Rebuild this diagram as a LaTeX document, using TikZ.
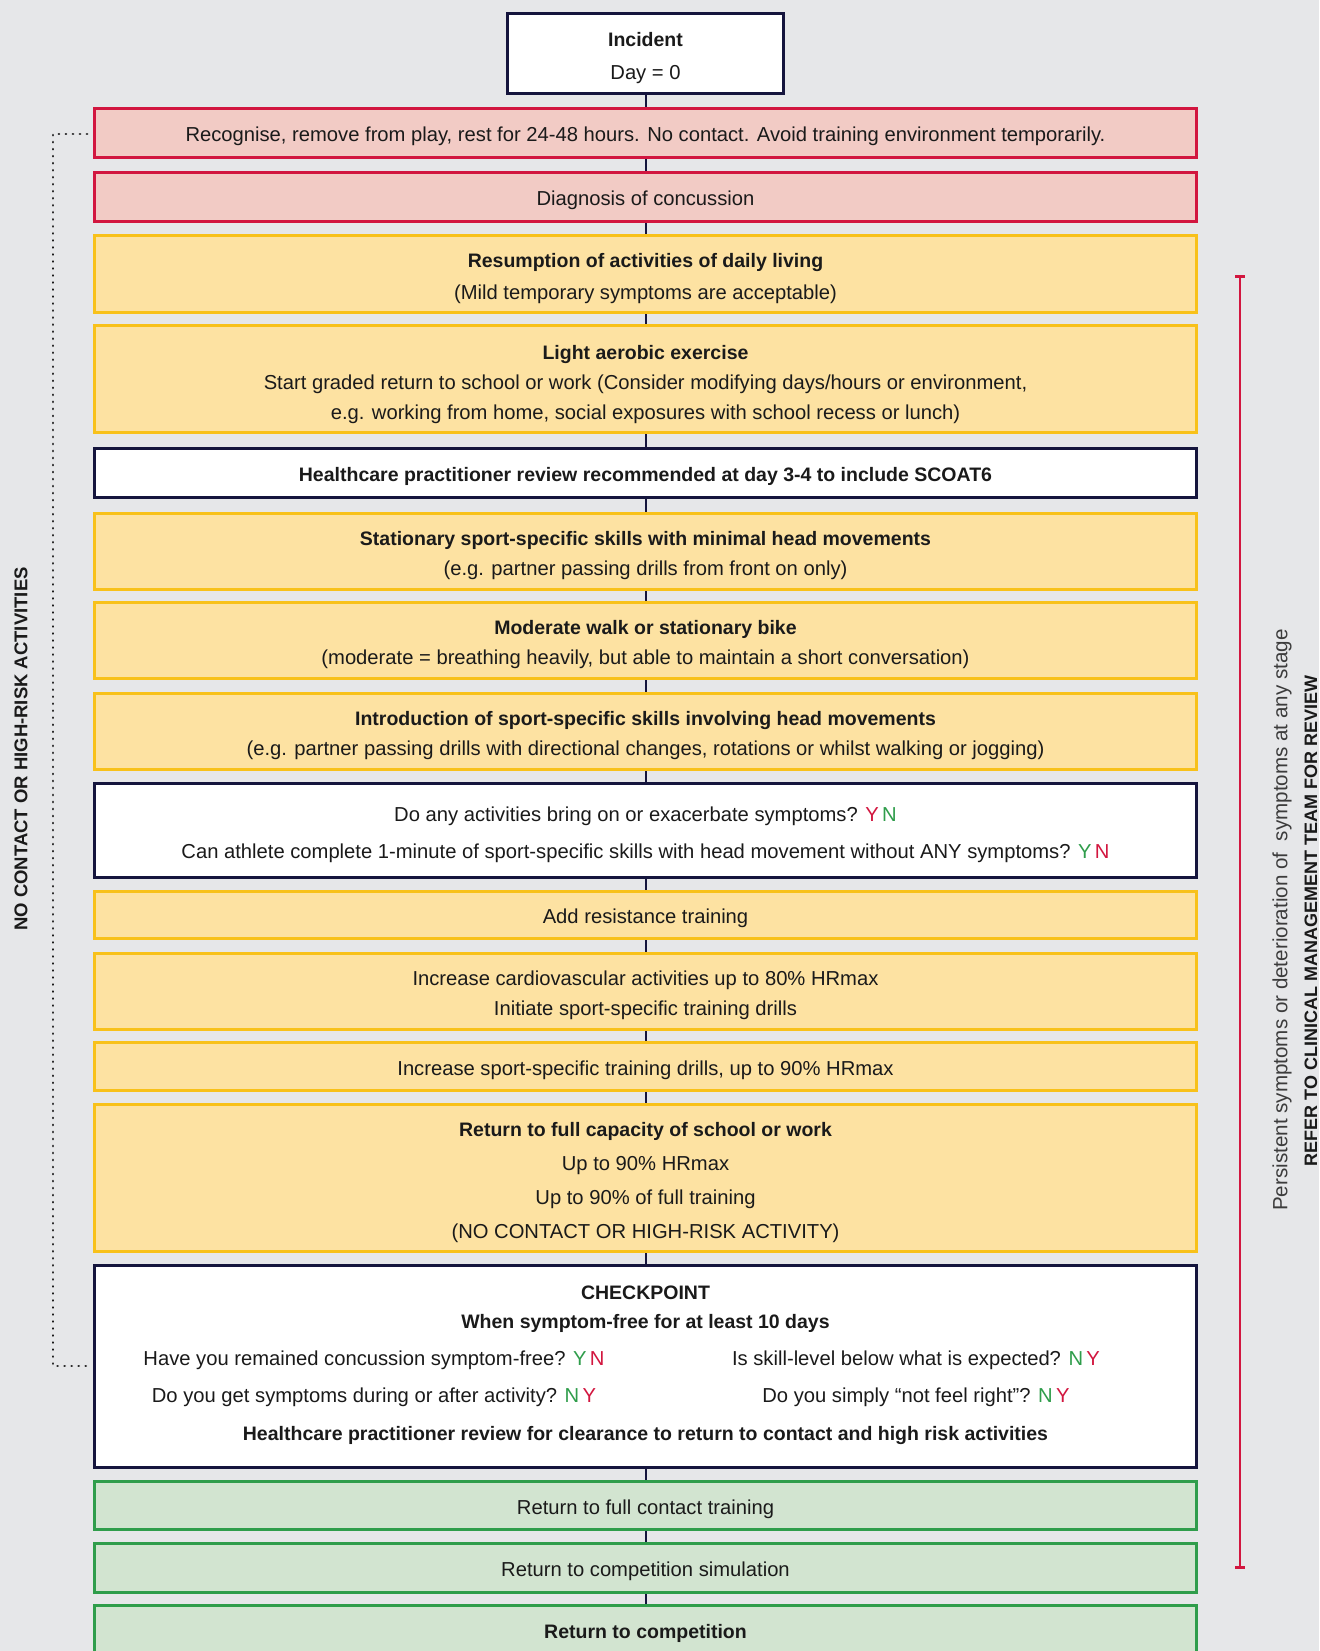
\documentclass[tikz,border=0pt]{standalone}
\usepackage{fontspec}
\setmainfont{Liberation Sans}
\usetikzlibrary{calc}
\definecolor{bg}{HTML}{E6E7E9}
\definecolor{crim}{HTML}{D2163F}
\definecolor{redfill}{HTML}{F2CBC5}
\definecolor{gold}{HTML}{F8C11A}
\definecolor{yelfill}{HTML}{FDE2A2}
\definecolor{navy}{HTML}{15153D}
\definecolor{grn}{HTML}{2F9D4B}
\definecolor{grnfill}{HTML}{D2E4D0}
\definecolor{ink}{HTML}{1A1A1A}
\newcommand\yR{\textcolor{crim}{Y}}
\newcommand\yG{\textcolor{grn}{Y}}
\newcommand\nR{\textcolor{crim}{N}}
\newcommand\nG{\textcolor{grn}{N}}
\newcommand\bx[1]{{\bfseries\fontsize{9.75}{15}\selectfont #1}}
\newcommand\st[1][11.4pt]{\rule{0pt}{#1}}
\begin{document}
\begin{tikzpicture}[x=0.5pt,y=-0.5pt,
  base/.style={draw, line width=1.5pt, minimum width=551pt, inner sep=0pt, align=center,
    font=\fontsize{10.1}{15}\selectfont, text=ink, execute at begin node={\rule{0pt}{11pt}}},
  ht/.style={minimum height=#1*0.5pt-1.5pt},
  redbox/.style={base, fill=redfill, draw=crim},
  yelbox/.style={base, fill=yelfill, draw=gold},
  whitebox/.style={base, fill=white, draw=navy},
  grnbox/.style={base, fill=grnfill, draw=grn},
  conn/.style={draw=navy, line width=1pt},
  txt/.style={inner sep=0pt, text=ink, font=\fontsize{10.1}{15}\selectfont},
  dots/.style={draw=ink, line width=1.4pt, line cap=round, dash pattern=on 0.01pt off 3.5pt},
]
\fill[bg] (0,0) rectangle (1319,1651);
\useasboundingbox (0,0) rectangle (1319,1651);

\node[whitebox, minimum width=138pt, ht=83] (incident) at (645.5,53.5) {\st\bx{Incident}\\[1.5pt]Day = 0};
\node[redbox, ht=52] (recog) at (645.5,133) {Recognise, remove from play, rest for 24-48 hours. No contact. Avoid training environment temporarily.};
\node[redbox, ht=52] (diag) at (645.5,197) {Diagnosis of concussion};
\node[yelbox, ht=80] (resump) at (645.5,274) {\st\bx{Resumption of activities of daily living}\\[0.8pt](Mild temporary symptoms are acceptable)};
\node[yelbox, ht=110] (light) at (645.5,379) {\st[12.4pt]\bx{Light aerobic exercise}\\Start graded return to school or work (Consider modifying days/hours or environment,\\e.g. working from home, social exposures with school recess or lunch)};
\node[whitebox, ht=52] (review) at (645.5,473) {\bx{Healthcare practitioner review recommended at day 3-4 to include SCOAT6}};
\node[yelbox, ht=79] (station) at (645.5,551.5) {\st\bx{Stationary sport-specific skills with minimal head movements}\\(e.g. partner passing drills from front on only)};
\node[yelbox, ht=79] (walk) at (645.5,640.5) {\st\bx{Moderate walk or stationary bike}\\(moderate = breathing heavily, but able to maintain a short conversation)};
\node[yelbox, ht=79] (intro) at (645.5,731.5) {\st\bx{Introduction of sport-specific skills involving head movements}\\(e.g. partner passing drills with directional changes, rotations or whilst walking or jogging)};
\node[whitebox, ht=97] (quest) at (645.5,830.5) {\st Do any activities bring on or exacerbate symptoms? \yR\,\nG\\[3.5pt]Can athlete complete 1-minute of sport-specific skills with head movement without ANY symptoms? \yG\,\nR};
\node[yelbox, ht=50] (resist) at (645.5,915) {Add resistance training};
\node[yelbox, ht=79] (cardio) at (645.5,991.5) {\st Increase cardiovascular activities up to 80\% HRmax\\Initiate sport-specific training drills};
\node[yelbox, ht=51] (drills) at (645.5,1066.5) {Increase sport-specific training drills, up to 90\% HRmax};
\node[yelbox, ht=150] (fullcap) at (645.5,1178) {\st\bx{Return to full capacity of school or work}\\[1.9pt]Up to 90\% HRmax\\[1.9pt]Up to 90\% of full training\\[1.9pt](NO CONTACT OR HIGH-RISK ACTIVITY)};
\node[whitebox, ht=205] (cp) at (645.5,1366.5) {};
\node[grnbox, ht=51] (contact) at (645.5,1505.5) {Return to full contact training};
\node[grnbox, ht=52] (sim) at (645.5,1568) {Return to competition simulation};
\node[grnbox, ht=52] (comp) at (645.5,1630) {\bx{Return to competition}};

% checkpoint texts
\node[txt] (cp1) at (645.5,1292.5) {\bx{CHECKPOINT}};
\node[txt] (cp2) at (645.5,1323) {\bx{When symptom-free for at least 10 days}};
\node[txt] (cp3) at (374,1360) {Have you remained concussion symptom-free? \yG\,\nR};
\node[txt] (cp4) at (916,1360) {Is skill-level below what is expected? \nG\,\yR};
\node[txt] (cp5) at (374,1397) {Do you get symptoms during or after activity? \nG\,\yR};
\node[txt] (cp6) at (916,1397) {Do you simply “not feel right”? \nG\,\yR};
\node[txt] (cp7) at (645.5,1435) {\bx{Healthcare practitioner review for clearance to return to contact and high risk activities}};

% connectors
\foreach \a/\b in {incident/recog, recog/diag, diag/resump, resump/light, light/review, review/station,
  station/walk, walk/intro, intro/quest, quest/resist, resist/cardio, cardio/drills, drills/fullcap,
  fullcap/cp, cp/contact, contact/sim, sim/comp}
  \draw[conn] (\a.south) -- (\b.north);

% left dotted bracket
\coordinate (dtop) at (87,134);
\coordinate (dbot) at (87,1366);
\draw[dots] (dtop) -- ++(-34,0) |- (dbot);
\node[rotate=90, inner sep=0pt, text=ink, font=\bfseries\fontsize{9.25}{11}\selectfont] (nocontact) at (21,749) {NO CONTACT OR HIGH-RISK ACTIVITIES};

% right red bracket
\coordinate (rtop) at (1240,276);
\coordinate (rbot) at (1240,1567);
\draw[crim, line width=1pt] (rtop) -- (rbot);
\draw[crim, line width=1.5pt] ([xshift=-2.5pt]rtop) -- ([xshift=2.5pt]rtop);
\draw[crim, line width=1.5pt] ([xshift=-2.5pt]rbot) -- ([xshift=2.5pt]rbot);
\node[rotate=90, inner sep=0pt, text=ink!85, font=\fontsize{10.3}{12}\selectfont] (persist) at (1282,920) {Persistent symptoms or deterioration of\ \ symptoms at any stage};
\node[rotate=90, inner sep=0pt, text=ink, font=\bfseries\fontsize{9}{11}\selectfont] (refer) at (1311,921) {REFER TO CLINICAL MANAGEMENT TEAM FOR REVIEW};
\end{tikzpicture}
\end{document}
